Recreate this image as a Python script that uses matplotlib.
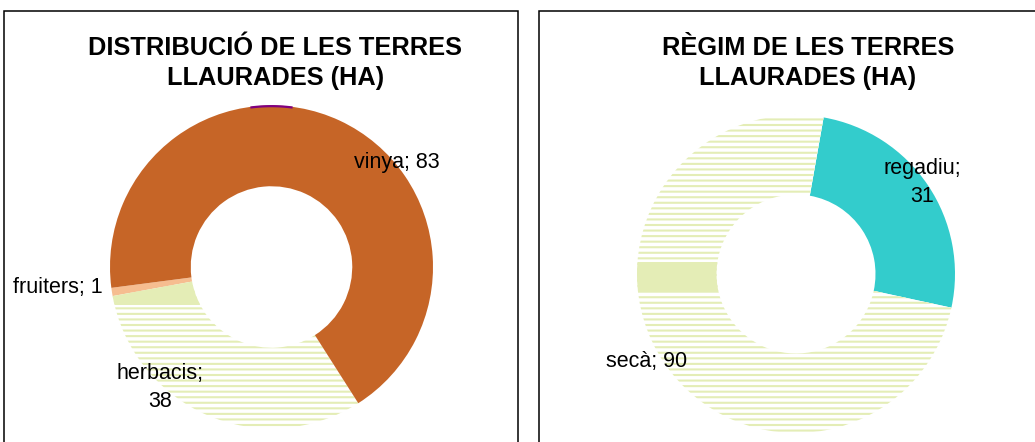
import matplotlib.pyplot as plt
from matplotlib.patches import Rectangle, Wedge
import numpy as np

plt.rcParams['font.family'] = ['Liberation Sans', 'DejaVu Sans']
plt.rcParams['hatch.linewidth'] = 1.5

W, H = 1035, 442

# --- dades ---
titol_esq = 'DISTRIBUCIÓ DE LES TERRES\nLLAURADES (HA)'
cat_esq = ['herbacis', 'fruiters', 'vinya']
val_esq = [38, 1, 83]
col_esq = ['#E4EDB6', '#F6BD90', '#C66527']

titol_dre = 'RÈGIM DE LES TERRES\nLLAURADES (HA)'
cat_dre = ['regadiu', 'secà']
val_dre = [31, 90]
col_dre = ['#33CCCC', '#E4EDB6']

VERD = '#E4EDB6'


def eix_px(cx, cy, r):
    # eix quadrat centrat a (cx, cy) en pixels, radi r
    return [(cx - r) / W, (H - cy - r) / H, 2 * r / W, 2 * r / H]


def ratllat(ax, w, banda):
    # ratlles horitzontals + tros ple (com al original)
    w.set_facecolor('white')
    w.set_edgecolor(VERD)
    w.set_linewidth(0)
    w.set_hatch('---')
    ple = Wedge((0, 0), w.r, w.theta1, w.theta2, width=w.width,
                facecolor=VERD, linewidth=0)
    ax.add_patch(ple)
    x0, y0, x1, y1 = banda
    rect = Rectangle((x0, y0), x1 - x0, y1 - y0, transform=ax.transData)
    ple.set_clip_path(rect)


fig = plt.figure(figsize=(W / 100, H / 100), dpi=100)

# caixes
fig.add_artist(Rectangle((3.5 / W, -0.05), 514 / W, 1.05 - 11.5 / H,
                         transform=fig.transFigure, fill=False, ec='black', lw=1.1))
fig.add_artist(Rectangle((538.5 / W, -0.05), 510 / W, 1.05 - 11.5 / H,
                         transform=fig.transFigure, fill=False, ec='black', lw=1.1))

# titols
fig.text(275.5 / W, 1 - 36 / H, titol_esq, ha='center', va='top',
         fontsize=18.3, fontweight='bold', linespacing=1.32)
fig.text(808 / W, 1 - 36 / H, titol_dre, ha='center', va='top',
         fontsize=18.3, fontweight='bold', linespacing=1.32)

# --- grafic esquerre ---
ax1 = fig.add_axes(eix_px(271.5, 267, 161.5))
wed1, _ = ax1.pie(val_esq, colors=col_esq, startangle=302.5, counterclock=False,
                  wedgeprops=dict(width=0.5, linewidth=0))
ratllat(ax1, wed1[0], (-1.1, -0.235, 0.2, 0.0))
# linia lila a dalt
t = np.radians(np.linspace(82.5, 97.5, 20))
ax1.plot(np.cos(t), np.sin(t) - 0.004, color='#800080', lw=1.6,
         solid_capstyle='butt', zorder=5, clip_on=False)
ax1.text(0.777, 0.644, f'{cat_esq[2]}; {val_esq[2]}', ha='center', va='center', fontsize=15.5)
ax1.text(-1.322, -0.13, f'{cat_esq[1]}; {val_esq[1]}', ha='center', va='center', fontsize=15.5)
ax1.text(-0.69, -0.745, f'{cat_esq[0]};\n{val_esq[0]}', ha='center', va='center',
         fontsize=15.5, linespacing=1.45)
ax1.set_xlim(-1, 1)
ax1.set_ylim(-1, 1)

# --- grafic dret ---
ax2 = fig.add_axes(eix_px(796, 274, 159))
wed2, _ = ax2.pie(val_dre, colors=col_dre, startangle=80, counterclock=False,
                  wedgeprops=dict(width=0.5, linewidth=0))
ratllat(ax2, wed2[1], (-1.1, -0.107, 0.0, 0.075))
ax2.text(0.792, 0.575, f'{cat_dre[0]};\n{val_dre[0]}', ha='center', va='center',
         fontsize=15.5, linespacing=1.45)
ax2.text(-0.937, -0.553, f'{cat_dre[1]}; {val_dre[1]}', ha='center', va='center', fontsize=15.5)
ax2.set_xlim(-1, 1)
ax2.set_ylim(-1, 1)

fig.savefig('out.png', dpi=100)
